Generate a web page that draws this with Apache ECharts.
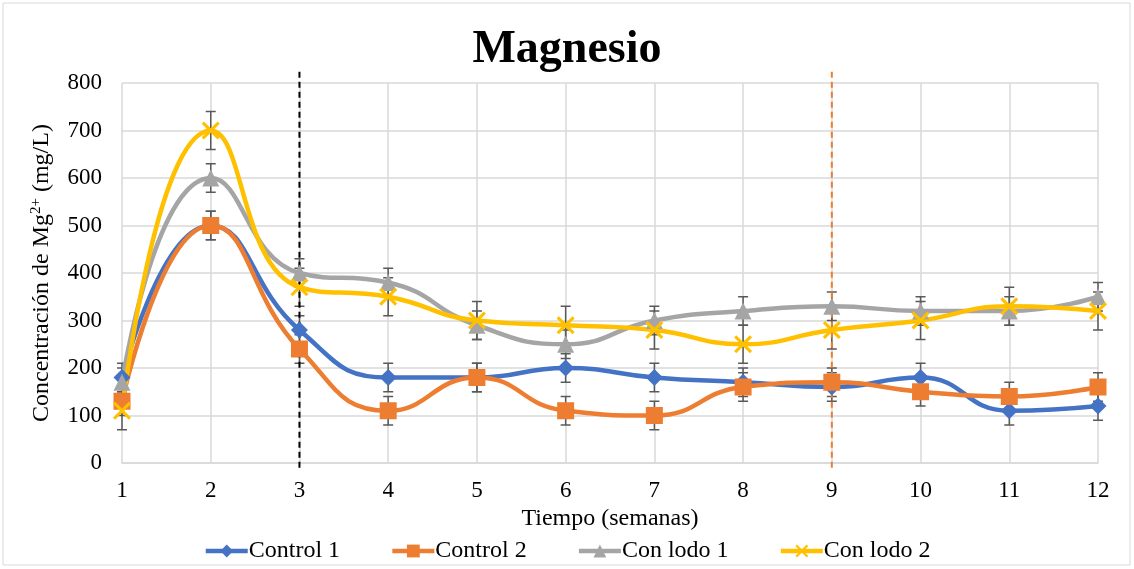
<!DOCTYPE html>
<html>
<head>
<meta charset="utf-8">
<script src="https://cdn.jsdelivr.net/npm/echarts@6/dist/echarts.min.js"></script>
<style>
  html, body { margin: 0; padding: 0; background: #fff; }
  #main { width: 1134px; height: 569px; }
</style>
</head>
<body>
<div id="main"></div>
<script>
// datos
var semanas = ['1', '2', '3', '4', '5', '6', '7', '8', '9', '10', '11', '12'];
var control1 = [180, 500, 280, 180, 180, 200, 180, 170, 160, 180, 110, 120];
var control2 = [130, 500, 240, 110, 180, 110, 100, 160, 170, 150, 140, 160];
var conLodo1 = [170, 600, 400, 380, 290, 250, 300, 320, 330, 320, 320, 350];
var conLodo2 = [110, 700, 370, 350, 300, 290, 280, 250, 280, 300, 330, 320];
var errControl1 = [30, 30, 30, 30, 30, 30, 30, 30, 30, 30, 30, 30];
var errControl2 = [30, 30, 30, 30, 30, 30, 30, 30, 30, 30, 30, 30];
var errLodo1 = [30, 30, 30, 30, 30, 30, 30, 30, 30, 30, 30, 30];
var errLodo2 = [40, 40, 40, 40, 40, 40, 40, 40, 40, 40, 40, 40];
var yTicks = [0, 100, 200, 300, 400, 500, 600, 700, 800];
// lineas verticales punteadas (indice de semana, desde, hasta)
var lineaNegra = [[2, -10, 832]];
var lineaNaranja = [[8, -10, 832]];

var FONT = '"Liberation Serif", "Times New Roman", serif';
var crossPath = 'path://M0,1.2L1.2,0L5,3.8L8.8,0L10,1.2L6.2,5L10,8.8L8.8,10L5,6.2L1.2,10L0,8.8L3.8,5Z';

function errData(vals, errs) {
    var out = [];
    for (var i = 0; i < vals.length; i++) {
        out.push([i, vals[i] - errs[i], vals[i] + errs[i]]);
    }
    return out;
}

function renderErr(params, api) {
    var x = api.value(0);
    var lo = api.coord([x, api.value(1)]);
    var hi = api.coord([x, api.value(2)]);
    var st = { stroke: '#595959', lineWidth: 1.5 };
    return {
        type: 'group',
        children: [
            { type: 'line', shape: { x1: lo[0], y1: lo[1], x2: hi[0], y2: hi[1] }, style: st },
            { type: 'line', shape: { x1: lo[0] - 5, y1: lo[1], x2: lo[0] + 5, y2: lo[1] }, style: st },
            { type: 'line', shape: { x1: hi[0] - 5, y1: hi[1], x2: hi[0] + 5, y2: hi[1] }, style: st }
        ]
    };
}

function renderDash(color) {
    return function (params, api) {
        var x = api.value(0);
        var a = api.coord([x, api.value(1)]);
        var b = api.coord([x, api.value(2)]);
        return {
            type: 'line',
            shape: { x1: a[0], y1: a[1], x2: b[0], y2: b[1] },
            style: { stroke: color, lineWidth: 2, lineDash: [6, 4] }
        };
    };
}

function lineSeries(name, data, color, symbol, size) {
    return {
        name: name,
        type: 'line',
        data: data,
        smooth: 0.5,
        symbol: symbol,
        symbolSize: size,
        z: 5,
        lineStyle: { color: color, width: 4.5 },
        itemStyle: { color: color },
        emphasis: { disabled: true }
    };
}

var myChart = echarts.init(document.getElementById('main'));

var option = {
    animation: false,
    backgroundColor: '#fff',
    textStyle: { fontFamily: FONT },
    graphic: [{
        type: 'rect',
        shape: { x: 3, y: 3, width: 1127, height: 562 },
        style: { fill: 'none', stroke: '#d9d9d9', lineWidth: 1 },
        silent: true
    }],
    title: {
        text: 'Magnesio',
        left: 'center',
        top: 22,
        textStyle: { fontFamily: FONT, fontSize: 46, fontWeight: 'bold', color: '#000' }
    },
    legend: {
        data: ['Control 1', 'Control 2', 'Con lodo 1', 'Con lodo 2'],
        bottom: 1,
        left: 'center',
        itemWidth: 42,
        itemHeight: 16,
        itemGap: 50,
        lineStyle: { width: 4.5 },
        textStyle: { fontFamily: FONT, fontSize: 24, color: '#000', padding: [0, 0, 0, -4] }
    },
    grid: { left: 122, right: 36, top: 83, bottom: 106 },
    xAxis: {
        type: 'category',
        data: semanas,
        boundaryGap: false,
        name: 'Tiempo (semanas)',
        nameLocation: 'middle',
        nameGap: 40,
        nameTextStyle: { fontFamily: FONT, fontSize: 24, color: '#000' },
        axisLine: { lineStyle: { color: '#d9d9d9', width: 1.5 } },
        axisTick: { show: false },
        axisLabel: { fontFamily: FONT, fontSize: 23, color: '#000', margin: 16 },
        splitLine: { show: true, lineStyle: { color: '#d9d9d9', width: 1.5 } }
    },
    yAxis: {
        type: 'value',
        min: yTicks[0],
        max: yTicks[yTicks.length - 1],
        interval: 100,
        name: 'Concentración de Mg{sup|2+} (mg/L)',
        nameLocation: 'middle',
        nameGap: 68,
        nameTextStyle: {
            fontFamily: FONT, fontSize: 24, color: '#000',
            rich: { sup: { fontFamily: FONT, fontSize: 15, color: '#000', verticalAlign: 'top', padding: [0, 0, 10, 0] } }
        },
        axisLine: { show: false },
        axisTick: { show: false },
        axisLabel: { fontFamily: FONT, fontSize: 23, color: '#000', margin: 20 },
        splitLine: { lineStyle: { color: '#d9d9d9', width: 1.5 } }
    },
    series: [
        { type: 'custom', name: 'err1', renderItem: renderErr, data: errData(control1, errControl1), encode: { x: 0, y: [1, 2] }, z: 3, silent: true },
        { type: 'custom', name: 'err2', renderItem: renderErr, data: errData(control2, errControl2), encode: { x: 0, y: [1, 2] }, z: 3, silent: true },
        { type: 'custom', name: 'err3', renderItem: renderErr, data: errData(conLodo1, errLodo1), encode: { x: 0, y: [1, 2] }, z: 3, silent: true },
        { type: 'custom', name: 'err4', renderItem: renderErr, data: errData(conLodo2, errLodo2), encode: { x: 0, y: [1, 2] }, z: 3, silent: true },
        lineSeries('Control 1', control1, '#4472c4', 'diamond', 17),
        lineSeries('Control 2', control2, '#ed7d31', 'rect', 17),
        lineSeries('Con lodo 1', conLodo1, '#a5a5a5', 'triangle', 17),
        lineSeries('Con lodo 2', conLodo2, '#ffc000', crossPath, 18),
        { type: 'custom', name: 'v1', renderItem: renderDash('#000'), data: lineaNegra, encode: { x: 0, y: [1, 2] }, clip: false, z: 4, silent: true },
        { type: 'custom', name: 'v2', renderItem: renderDash('#ed7d31'), data: lineaNaranja, encode: { x: 0, y: [1, 2] }, clip: false, z: 4, silent: true }
    ]
};

myChart.setOption(option);
</script>
</body>
</html>
